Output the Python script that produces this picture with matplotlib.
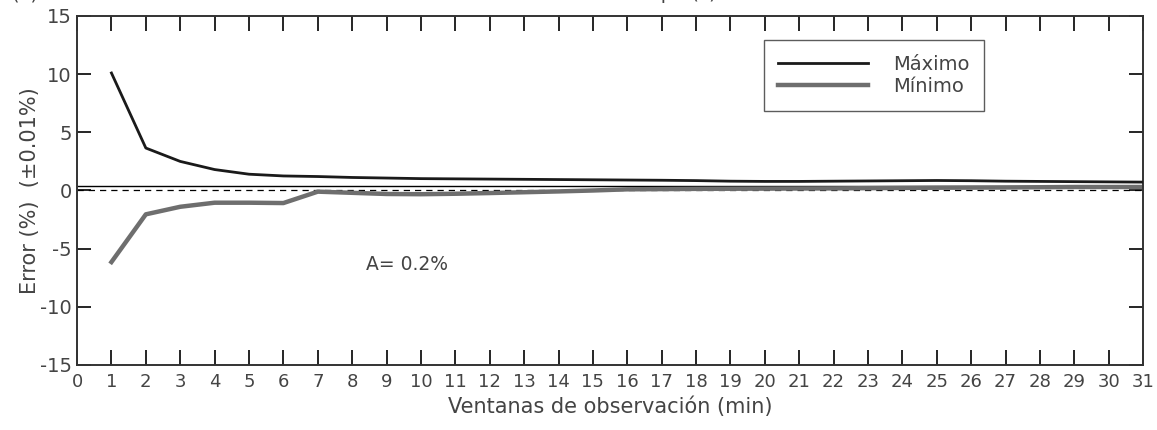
import numpy as np
import matplotlib.pyplot as plt

plt.rcParams['font.family'] = ['DejaVu Sans']
plt.rcParams['axes.unicode_minus'] = False

# data
ventanas = np.arange(1, 32)
maximo = [10.1, 3.65, 2.5, 1.8, 1.4, 1.25, 1.2, 1.12, 1.07, 1.02,
          1.0, 0.98, 0.96, 0.94, 0.92, 0.9, 0.88, 0.85, 0.8, 0.78,
          0.78, 0.8, 0.82, 0.84, 0.86, 0.84, 0.8, 0.78, 0.76, 0.74, 0.72]
minimo = [-6.15, -2.05, -1.4, -1.05, -1.05, -1.08, -0.1, -0.2, -0.3, -0.32,
          -0.28, -0.22, -0.15, -0.08, 0.0, 0.1, 0.12, 0.14, 0.15, 0.16,
          0.17, 0.18, 0.2, 0.22, 0.24, 0.25, 0.26, 0.28, 0.3, 0.3, 0.3]
ref_sup = 0.35
ref_inf = 0.0

fig = plt.figure(figsize=(11.57, 4.30), dpi=100)
ax = fig.add_axes([0.0666, 0.1512, 0.9214, 0.8116])

txt = '#444444'
ax.axhline(ref_sup, color='black', lw=1.0, zorder=1)
ax.axhline(ref_inf, color='black', lw=0.9, ls=(0, (5, 4)), zorder=1)
ax.plot(ventanas, maximo, color='#1a1a1a', lw=2.0, label='Máximo', zorder=3)
ax.plot(ventanas, minimo, color='#6e6e6e', lw=3.2, label='Mínimo', zorder=2)

ax.set_xlim(0, 31)
ax.set_ylim(-15, 15)
ax.set_xticks(np.arange(0, 32))
ax.set_yticks(np.arange(-15, 16, 5))
ax.tick_params(axis='x', direction='in', length=11, width=1.2, top=True,
               labelsize=13, labelcolor=txt, pad=6)
ax.tick_params(axis='y', direction='in', length=10, width=1.2, right=True,
               labelsize=14, labelcolor=txt, pad=4)
for s in ax.spines.values():
    s.set_linewidth(1.4)
    s.set_color('#333333')

ax.set_xlabel('Ventanas de observación (min)', fontsize=15, color=txt, labelpad=4)
ax.set_ylabel('Error (%)  (±0.01%)', fontsize=15, color=txt, labelpad=0)

ax.text(8.4, -6.4, 'A= 0.2%', fontsize=13.5, color=txt, va='center')

leg = ax.legend(loc='upper left', bbox_to_anchor=(0.644, 0.93), fontsize=14,
                frameon=True, fancybox=False, handlelength=4.6, handletextpad=1.3,
                borderpad=0.75, labelspacing=0.15, borderaxespad=0)
leg.get_frame().set_edgecolor('#333333')
leg.get_frame().set_linewidth(1.0)
for t in leg.get_texts():
    t.set_color(txt)

# title cut off by the top edge of the picture, only the bottom shows
fig.text(0.01, 1.0 + 1 / 430, '(a)', fontsize=14, color=txt, va='baseline')
fig.text(0.575, 1.0 + 1 / 430, 'Tiempo (s)', fontsize=14, color=txt,
         va='baseline', ha='center')

fig.savefig('out.png', dpi=100)
